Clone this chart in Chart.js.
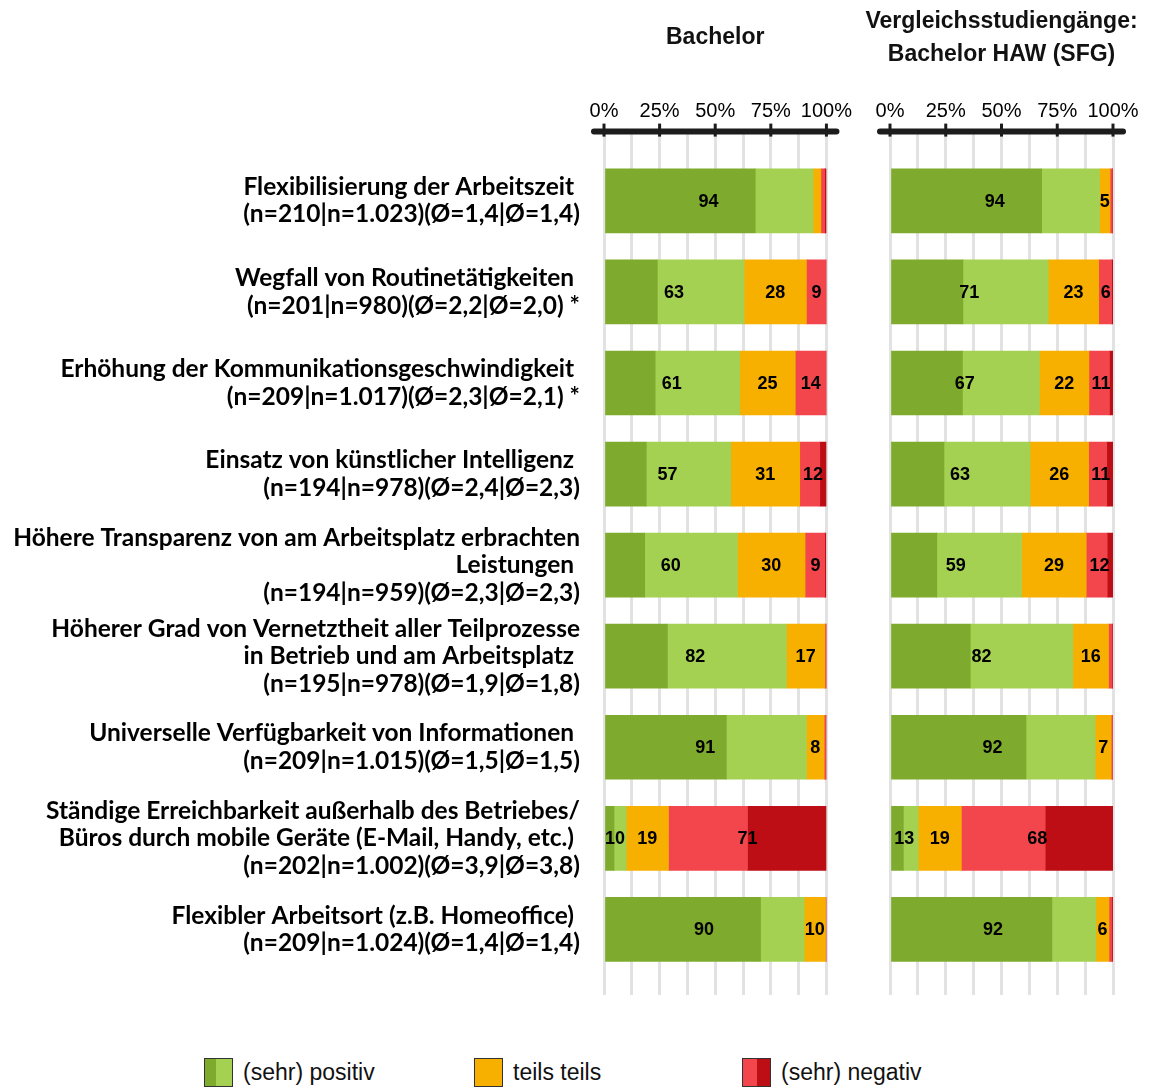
<!DOCTYPE html>
<html><head><meta charset="utf-8">
<script src="https://cdn.jsdelivr.net/npm/chart.js@4.4.1/dist/chart.umd.min.js"></script>
<style>
html,body{margin:0;padding:0;background:#fff;}
#wrap{position:relative;width:1159px;height:1088px;overflow:hidden;background:#fff;}
#cL{position:absolute;left:0;top:0;}
#cR{position:absolute;left:845px;top:0;}
.lg{position:absolute;top:1058px;height:29px;display:flex;align-items:center;font:23px "Liberation Sans",Arial,sans-serif;color:#111;white-space:nowrap;}
.sw{box-sizing:border-box;width:29px;height:29px;border:1px solid #333;display:flex;margin-right:10px;}
.sw i{display:block;height:100%;}
</style></head><body>
<div id="wrap">
<canvas id="cL" width="860" height="1000"></canvas>
<canvas id="cR" width="313" height="1000"></canvas>
<div class="lg" style="left:204px"><span class="sw"><i style="background:#7EAB2D;width:42%"></i><i style="background:#A5D152;flex:1"></i></span>(sehr) positiv</div>
<div class="lg" style="left:474px"><span class="sw"><i style="background:#F7AF00;flex:1"></i></span>teils teils</div>
<div class="lg" style="left:742px"><span class="sw"><i style="background:#F2464C;width:50%"></i><i style="background:#BE0E15;flex:1"></i></span>(sehr) negativ</div>
</div>
<script>
// ---------- data ----------
const categories = [
  ["Flexibilisierung der Arbeitszeit ", "(n=210|n=1.023)(Ø=1,4|Ø=1,4)"],
  ["Wegfall von Routinetätigkeiten ", "(n=201|n=980)(Ø=2,2|Ø=2,0) *"],
  ["Erhöhung der Kommunikationsgeschwindigkeit ", "(n=209|n=1.017)(Ø=2,3|Ø=2,1) *"],
  ["Einsatz von künstlicher Intelligenz ", "(n=194|n=978)(Ø=2,4|Ø=2,3)"],
  ["Höhere Transparenz von am Arbeitsplatz erbrachten", "Leistungen ", "(n=194|n=959)(Ø=2,3|Ø=2,3)"],
  ["Höherer Grad von Vernetztheit aller Teilprozesse", "in Betrieb und am Arbeitsplatz ", "(n=195|n=978)(Ø=1,9|Ø=1,8)"],
  ["Universelle Verfügbarkeit von Informationen ", "(n=209|n=1.015)(Ø=1,5|Ø=1,5)"],
  ["Ständige Erreichbarkeit außerhalb des Betriebes/", "Büros durch mobile Geräte (E-Mail, Handy, etc.) ", "(n=202|n=1.002)(Ø=3,9|Ø=3,8)"],
  ["Flexibler Arbeitsort (z.B. Homeoffice) ", "(n=209|n=1.024)(Ø=1,4|Ø=1,4)"]
];
const seriesNames = ["sehr positiv", "positiv", "teils teils", "negativ", "sehr negativ"];
const seriesColors = ["#7EAB2D", "#A5D152", "#F7AF00", "#F2464C", "#BE0E15"];

const bachelorSehrPositiv = [68, 24, 23, 19, 18.3, 28.5, 55, 4.5, 70.4];
const bachelorPositiv     = [26, 39, 38, 38, 41.7, 53.5, 36, 5.5, 19.6];
const bachelorTeils       = [3.5, 28, 25, 31, 30.4, 17.3, 8, 19, 9.6];
const bachelorNegativ     = [1.7, 9, 14, 9, 8.8, 0.7, 0.7, 35.5, 0.4];
const bachelorSehrNegativ = [0.8, 0, 0, 3, 0.6, 0, 0.3, 35.5, 0];

const sfgSehrPositiv = [68, 32.7, 32.5, 24.2, 21, 36, 61, 6, 72.6];
const sfgPositiv     = [26, 38.3, 34.5, 38.6, 38, 46, 31, 6.7, 19.7];
const sfgTeils       = [4.7, 22.6, 22.2, 26.3, 29, 16, 7.2, 19.3, 5.9];
const sfgNegativ     = [1, 5.8, 9.2, 8.1, 9.4, 1.6, 0.6, 37.6, 1.3];
const sfgSehrNegativ = [0.3, 0.6, 1.6, 2.8, 2.6, 0.4, 0.2, 30.4, 0.5];

const xTickLabels = [0, 25, 50, 75, 100];
const titleLeft = "Bachelor";
const titleRight = ["Vergleichsstudiengänge:", "Bachelor HAW (SFG)"];

// ---------- helpers ----------
const labelGroups = [[0, 1], [2], [3, 4]];
function buildDatasets(series) {
  return series.map((arr, k) => ({
    label: seriesNames[k],
    data: arr.map((v, i) => ({ x: v, y: i })),
    backgroundColor: seriesColors[k],
    borderWidth: 0,
    barThickness: 64,
    stack: "all"
  }));
}

const valueLabels = {
  id: "valueLabels",
  afterDatasetsDraw(chart) {
    const { ctx } = chart;
    const xs = chart.scales.x, ys = chart.scales.y;
    const ds = chart.data.datasets;
    ctx.save();
    ctx.font = 'bold 18px "Liberation Sans", Arial, sans-serif';
    ctx.fillStyle = "#000";
    ctx.textAlign = "center";
    ctx.textBaseline = "middle";
    ds[0].data.forEach((pt, i) => {
      let start = 0;
      labelGroups.forEach(g => {
        const sum = g.reduce((s, d) => s + ds[d].data[i].x, 0);
        const r = Math.round(sum);
        if (r >= 5) {
          const x = xs.getPixelForValue(start + sum / 2);
          const y = ys.getPixelForValue(pt.y);
          ctx.fillText(String(r), x, y + 1);
        }
        start += sum;
      });
    });
    ctx.restore();
  }
};

const axisLine = {
  id: "axisLine",
  afterDraw(chart) {
    const { ctx, chartArea } = chart;
    const xs = chart.scales.x;
    ctx.save();
    ctx.strokeStyle = "#1c1c1c";
    ctx.lineWidth = 3;
    xTickLabels.forEach(v => {
      const x = xs.getPixelForValue(v);
      ctx.beginPath();
      ctx.moveTo(x, chartArea.top - 8);
      ctx.lineTo(x, chartArea.top + 5);
      ctx.stroke();
    });
    ctx.lineWidth = 6;
    ctx.lineCap = "round";
    ctx.beginPath();
    ctx.moveTo(chartArea.left - 10, chartArea.top);
    ctx.lineTo(chartArea.right + 10, chartArea.top);
    ctx.stroke();
    ctx.restore();
  }
};

// leftW / rightW: widths reserved left and right of the plotting area
function makeChart(canvasId, series, title, titleCfg, leftW, rightW, showLabels, labelSize) {
  return new Chart(document.getElementById(canvasId), {
    type: "bar",
    data: { datasets: buildDatasets(series) },
    options: {
      indexAxis: "y",
      responsive: false,
      animation: false,
      devicePixelRatio: 1,
      layout: { padding: { left: 0, right: 0, top: 0, bottom: 5 } },
      scales: {
        x: {
          type: "linear",
          position: "top",
          min: 0, max: 100,
          stacked: true,
          grid: { color: "#e2e2e2", lineWidth: 3, drawTicks: false },
          border: { display: false },
          afterFit: (axis) => { axis.height = 40; },
          ticks: {
            stepSize: 12.5, autoSkip: false, maxRotation: 0, padding: 8,
            color: "#000",
            font: { family: "'Liberation Sans', Arial, sans-serif", size: 20 },
            callback: (v) => (v % 25 === 0 ? v + "%" : "")
          }
        },
        y: {
          type: "linear",
          reverse: true,
          offset: false,
          min: -0.76, max: 8.72,
          stacked: true,
          grid: { display: false, drawTicks: false, offset: false },
          border: { display: false },
          afterBuildTicks: (axis) => { axis.ticks = categories.map((_, i) => ({ value: i })); },
          afterFit: (axis) => {
            axis.width = leftW;
            axis.paddingTop = 0;
            axis.paddingBottom = 0;
          },
          ticks: {
            display: showLabels,
            padding: 24,
            color: "#000",
            autoSkip: false,
            font: { family: "Lato", weight: "bold", size: labelSize, lineHeight: 27.5 / labelSize },
            callback: (v) => categories[v]
          }
        },
        yRight: {
          type: "linear",
          position: "right",
          min: 0, max: 1,
          grid: { display: false, drawTicks: false },
          border: { display: false },
          ticks: { display: false },
          afterFit: (axis) => {
            axis.width = rightW;
            axis.paddingTop = 0;
            axis.paddingBottom = 0;
          }
        }
      },
      plugins: {
        legend: { display: false },
        tooltip: { enabled: false },
        title: {
          display: true,
          text: title,
          fullSize: titleCfg.full,
          color: "#111",
          font: { family: "'Liberation Sans', Arial, sans-serif", weight: "bold", size: 23, lineHeight: titleCfg.lh },
          padding: { top: titleCfg.top, bottom: titleCfg.bottom }
        }
      }
    },
    plugins: [valueLabels, axisLine]
  });
}

function build() {
  const mctx = document.createElement("canvas").getContext("2d");
  mctx.font = "bold 100px Lato";
  const w = mctx.measureText("Höhere Transparenz von am Arbeitsplatz erbrachten").width;
  const labelSize = Math.round(100 * 567 / w * 10) / 10;
  makeChart("cL",
    [bachelorSehrPositiv, bachelorPositiv, bachelorTeils, bachelorNegativ, bachelorSehrNegativ],
    titleLeft, { full: false, lh: 1.2, top: 24, bottom: 40 }, 604, 33, true, labelSize);
  makeChart("cR",
    [sfgSehrPositiv, sfgPositiv, sfgTeils, sfgNegativ, sfgSehrNegativ],
    titleRight, { full: true, lh: 33 / 23, top: 5.5, bottom: 20.1 }, 45, 45, false, labelSize);
}
if (document.fonts && document.fonts.load) {
  document.fonts.load("bold 20px Lato").then(build, build);
} else { build(); }
</script>
</body></html>
